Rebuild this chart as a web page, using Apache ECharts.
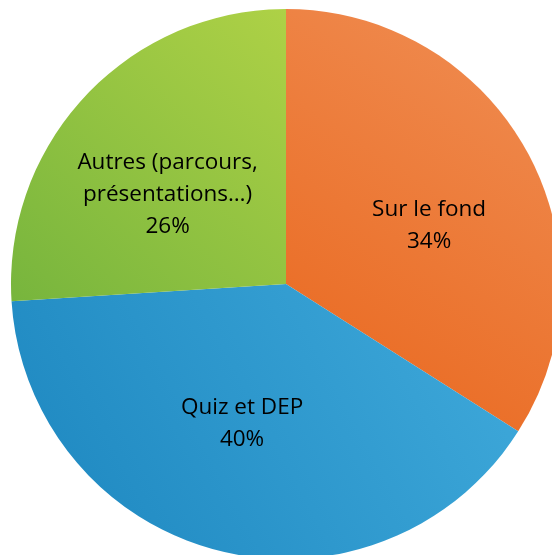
<!DOCTYPE html>
<html lang="fr">
<head>
    <meta charset="UTF-8">
    <title>Répartition</title>
    <script src="https://cdn.jsdelivr.net/npm/echarts@6/dist/echarts.min.js"></script>
    <style>
        html, body { margin: 0; padding: 0; background: #fff; }
        #main { width: 552px; height: 555px; }
    </style>
</head>
<body>
<div id="main"></div>
<script type="text/javascript">
  var categories = ['Sur le fond', 'Quiz et DEP', 'Autres (parcours,\nprésentations…)'];
  var percents = [34, 40, 26];
  // degradé clair -> foncé pour chaque part
  var lightColors = ['#f08f55', '#40aadb', '#aed146'];
  var darkColors = ['#e9661c', '#1c86bf', '#77b53d'];
  var labelOffsets = [[20, 9], [-9, 4], [-16, 7]];

  var myChart = echarts.init(document.getElementById('main'));

  var pieData = categories.map(function (name, i) {
    return {
      name: name,
      value: percents[i],
      itemStyle: {
        color: {
          type: 'linear', x: 0, y: 1, x2: 1, y2: 0,
          colorStops: [
            {offset: 0, color: darkColors[i]},
            {offset: 1, color: lightColors[i]}
          ]
        }
      },
      label: {offset: labelOffsets[i]}
    };
  });

  var option = {
    backgroundColor: '#fff',
    animation: false,
    series: [
      {
        type: 'pie',
        center: [286, 284],
        radius: 275,
        startAngle: 90,
        clockwise: true,
        avoidLabelOverlap: false,
        itemStyle: {borderWidth: 0},
        emphasis: {disabled: true},
        label: {
          show: true,
          position: 'inside',
          formatter: '{b}\n{c}%',
          color: '#000',
          fontFamily: 'Open Sans',
          fontSize: 22.5,
          lineHeight: 32
        },
        labelLine: {show: false},
        data: pieData
      }
    ]
  };
  myChart.setOption(option);
</script>
</body>
</html>
